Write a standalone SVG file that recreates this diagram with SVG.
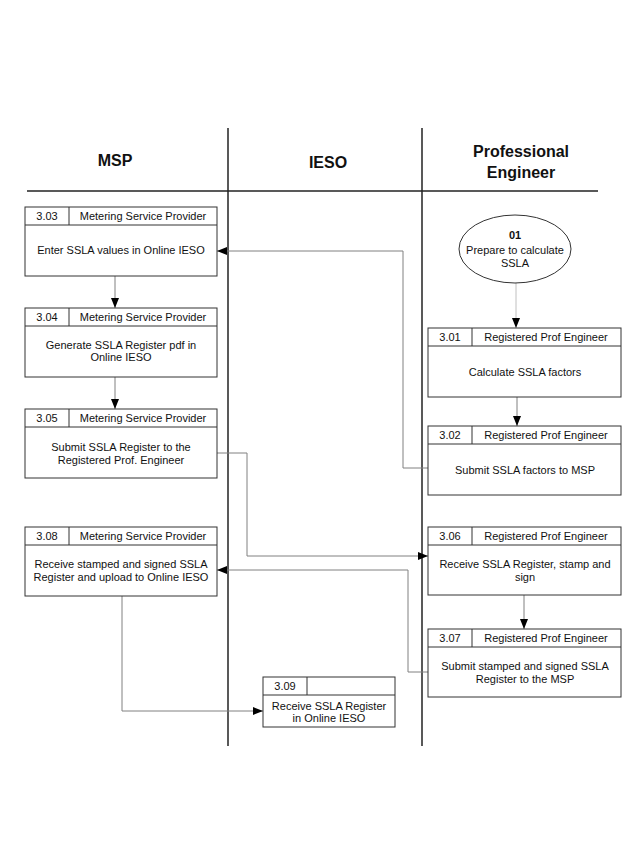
<svg xmlns="http://www.w3.org/2000/svg" width="626" height="850" viewBox="0 0 626 850">
<style>
text{font-family:"Liberation Sans",Arial,sans-serif;fill:#111}
.h{font-size:16px;font-weight:bold;text-anchor:middle}
.t{font-size:11px;text-anchor:middle}
.b{fill:#fff;stroke:#333;stroke-width:1}
.d{stroke:#333;stroke-width:1;fill:none}
.lane{stroke:#222;stroke-width:1.5;fill:none}
.c{fill:none;stroke:#808080;stroke-width:1}
.cl{fill:none;stroke:#c0c0c0;stroke-width:1}
</style>
<defs>
<marker id="ar" markerUnits="userSpaceOnUse" markerWidth="10" markerHeight="8" refX="10" refY="4" orient="auto">
<path d="M0,0 L10,4 L0,8 z" fill="#000"/>
</marker>
</defs>
<rect width="626" height="850" fill="#fff"/>
<g id="lanes">
<line class="lane" x1="228" y1="128" x2="228" y2="746"/>
<line class="lane" x1="422" y1="128" x2="422" y2="746"/>
<line class="lane" x1="27" y1="191" x2="598" y2="191"/>
<text class="h" x="115" y="166">MSP</text>
<text class="h" x="328" y="168">IESO</text>
<text class="h" x="521" y="157">Professional</text>
<text class="h" x="521" y="178">Engineer</text>
</g>
<g id="connectors">
<path class="c" d="M115,276 V308" marker-end="url(#ar)"/>
<path class="c" d="M115,377 V409" marker-end="url(#ar)"/>
<path class="cl" d="M516,283 V328" marker-end="url(#ar)"/>
<path class="c" d="M517,397 V426" marker-end="url(#ar)"/>
<path class="c" d="M428,468 H403 V251 H217" marker-end="url(#ar)"/>
<path class="c" d="M217,453 H247 V556 H428" marker-end="url(#ar)"/>
<path class="c" d="M524,595 V629" marker-end="url(#ar)"/>
<path class="c" d="M428,672 H408 V570 H217" marker-end="url(#ar)"/>
<path class="c" d="M122,596 V711 H263" marker-end="url(#ar)"/>
</g>
<g id="n01">
<ellipse cx="515" cy="249" rx="56" ry="34" fill="#fff" stroke="#333"/>
<text class="t" x="515" y="239" font-weight="bold">01</text>
<text class="t" x="515" y="254">Prepare to calculate</text>
<text class="t" x="515" y="267">SSLA</text>
</g>
<g id="n303">
<rect class="b" x="25" y="207" width="192" height="69"/>
<path class="d" d="M25,225 H217 M69,207 V225"/>
<text class="t" x="47" y="220">3.03</text>
<text class="t" x="143" y="220">Metering Service Provider</text>
<text class="t" x="121" y="254">Enter SSLA values in Online IESO</text>
</g>
<g id="n304">
<rect class="b" x="25" y="308" width="192" height="69"/>
<path class="d" d="M25,326 H217 M69,308 V326"/>
<text class="t" x="47" y="321">3.04</text>
<text class="t" x="143" y="321">Metering Service Provider</text>
<text class="t" x="121" y="349">Generate SSLA Register pdf in</text>
<text class="t" x="121" y="361">Online IESO</text>
</g>
<g id="n305">
<rect class="b" x="25" y="409" width="192" height="69"/>
<path class="d" d="M25,427 H217 M69,409 V427"/>
<text class="t" x="47" y="422">3.05</text>
<text class="t" x="143" y="422">Metering Service Provider</text>
<text class="t" x="121" y="451">Submit SSLA Register to the</text>
<text class="t" x="121" y="464">Registered Prof. Engineer</text>
</g>
<g id="n308">
<rect class="b" x="25" y="527" width="192" height="69"/>
<path class="d" d="M25,545 H217 M69,527 V545"/>
<text class="t" x="47" y="540">3.08</text>
<text class="t" x="143" y="540">Metering Service Provider</text>
<text class="t" x="121" y="568">Receive stamped and signed SSLA</text>
<text class="t" x="121" y="581">Register and upload to Online IESO</text>
</g>
<g id="n301">
<rect class="b" x="428" y="328" width="193" height="69"/>
<path class="d" d="M428,346 H621 M472,328 V346"/>
<text class="t" x="450" y="341">3.01</text>
<text class="t" x="546" y="341">Registered Prof Engineer</text>
<text class="t" x="525" y="376">Calculate SSLA factors</text>
</g>
<g id="n302">
<rect class="b" x="428" y="426" width="193" height="69"/>
<path class="d" d="M428,444 H621 M472,426 V444"/>
<text class="t" x="450" y="439">3.02</text>
<text class="t" x="546" y="439">Registered Prof Engineer</text>
<text class="t" x="525" y="474">Submit SSLA factors to MSP</text>
</g>
<g id="n306">
<rect class="b" x="428" y="527" width="193" height="68"/>
<path class="d" d="M428,545 H621 M472,527 V545"/>
<text class="t" x="450" y="540">3.06</text>
<text class="t" x="546" y="540">Registered Prof Engineer</text>
<text class="t" x="525" y="568">Receive SSLA Register, stamp and</text>
<text class="t" x="525" y="581">sign</text>
</g>
<g id="n307">
<rect class="b" x="428" y="629" width="193" height="68"/>
<path class="d" d="M428,647 H621 M472,629 V647"/>
<text class="t" x="450" y="642">3.07</text>
<text class="t" x="546" y="642">Registered Prof Engineer</text>
<text class="t" x="525" y="670">Submit stamped and signed SSLA</text>
<text class="t" x="525" y="683">Register to the MSP</text>
</g>
<g id="n309">
<rect class="b" x="263" y="677" width="132" height="50"/>
<path class="d" d="M263,695 H395 M307,677 V695"/>
<text class="t" x="285" y="690">3.09</text>
<text class="t" x="329" y="710">Receive SSLA Register</text>
<text class="t" x="329" y="722">in Online IESO</text>
</g>
</svg>
